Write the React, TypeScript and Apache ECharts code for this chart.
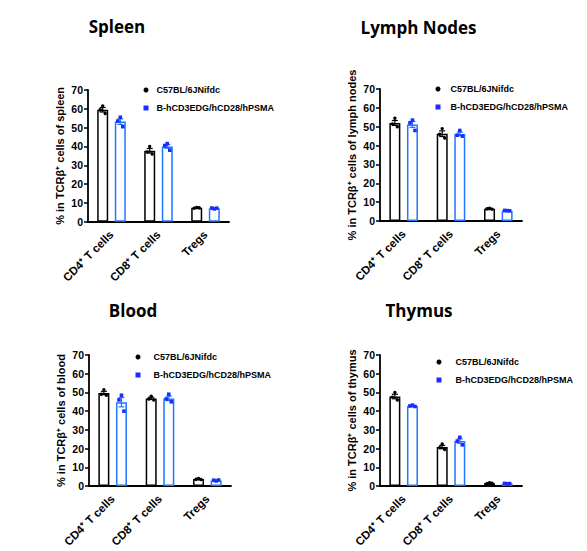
import React, { useEffect, useRef } from "react";
import * as echarts from "echarts";

const categories = ["CD4⁺ T cells", "CD8⁺ T cells", "Tregs"];
const WT = "C57BL/6JNifdc";
const HU = "B-hCD3EDG/hCD28/hPSMA";
const yTicks = [0, 10, 20, 30, 40, 50, 60, 70];

// Spleen
const spleenWTPoints = [[61.5, 59.5, 57.5], [40, 37, 36], [7.6, 7.2, 7.4]];
const spleenWTMean = [59.5, 37.7, 7.4];
const spleenWTSem = [1.2, 1.2, 0.15];
const spleenHUPoints = [[55.5, 53.5, 50.5], [41.5, 40.5, 38], [6.8, 7.3, 7.2]];
const spleenHUMean = [53.2, 40, 7.1];
const spleenHUSem = [1.5, 1.0, 0.15];

// Lymph nodes
const lymphWTPoints = [[54.5, 51.5, 50], [49, 46, 44], [6.8, 6.5, 6.3]];
const lymphWTMean = [52, 46.3, 6.5];
const lymphWTSem = [1.3, 1.5, 0.15];
const lymphHUPoints = [[53.5, 52, 48], [48, 45.5, 45], [5.5, 5.6, 5.4]];
const lymphHUMean = [51.2, 46.2, 5.5];
const lymphHUSem = [1.6, 0.9, 0.1];

// Blood
const bloodWTPoints = [[51.5, 49, 48.5], [48, 46.5, 46], [4, 3.6, 3.5]];
const bloodWTMean = [49.7, 46.8, 3.7];
const bloodWTSem = [0.9, 0.6, 0.15];
const bloodHUPoints = [[48.5, 46, 40], [49, 46.5, 45], [2.7, 3.1, 3.2]];
const bloodHUMean = [44.8, 46.8, 3.0];
const bloodHUSem = [2.5, 1.2, 0.15];

// Thymus
const thymusWTPoints = [[50, 47.5, 46], [22.5, 20.5, 19.5], [1.7, 1.4, 1.5]];
const thymusWTMean = [47.8, 20.8, 1.5];
const thymusWTSem = [1.2, 0.9, 0.1];
const thymusHUPoints = [[43.2, 42.8, 42.5], [26, 24, 22], [1.2, 1.4, 1.3]];
const thymusHUMean = [42.8, 24, 1.3];
const thymusHUSem = [0.2, 1.2, 0.05];

const panels = [
  { title: "Spleen", yName: "% in TCRβ⁺ cells of spleen", wtP: spleenWTPoints, wtM: spleenWTMean, wtS: spleenWTSem, huP: spleenHUPoints, huM: spleenHUMean, huS: spleenHUSem },
  { title: "Lymph Nodes", yName: "% in TCRβ⁺ cells of lymph nodes", wtP: lymphWTPoints, wtM: lymphWTMean, wtS: lymphWTSem, huP: lymphHUPoints, huM: lymphHUMean, huS: lymphHUSem },
  { title: "Blood", yName: "% in TCRβ⁺ cells of blood", wtP: bloodWTPoints, wtM: bloodWTMean, wtS: bloodWTSem, huP: bloodHUPoints, huM: bloodHUMean, huS: bloodHUSem },
  { title: "Thymus", yName: "% in TCRβ⁺ cells of thymus", wtP: thymusWTPoints, wtM: thymusWTMean, wtS: thymusWTSem, huP: thymusHUPoints, huM: thymusHUMean, huS: thymusHUSem },
];

// layout (positions only)
const grids = [
  { left: 88, top: 90, width: 141, height: 131.7 },
  { left: 380, top: 89, width: 142, height: 132 },
  { left: 89, top: 355, width: 142, height: 131 },
  { left: 380, top: 355, width: 142, height: 131 },
];
const titlePos = [
  { x: 117, y: 18 },
  { x: 418.5, y: 19 },
  { x: 133, y: 302 },
  { x: 419, y: 302 },
];
const legendPos = [
  { left: 143.5, top: 84, pad: 3 },
  { left: 435.5, top: 83, pad: 5 },
  { left: 135.5, top: 351, pad: 8 },
  { left: 436.5, top: 356, pad: 9 },
];

const FONT = "'Liberation Sans', Arial, sans-serif";
const BLACK = "#000000";
const BLUE_BAR = "#1f78ff";
const BLUE_PT = "#1a2cff";
const BAR_W = 11;
const HALF = 8.8;
const JIT = [0, -2.5, 2.5];

function errRender(offset: number, color: string) {
  return (params: any, api: any) => {
    const cat = api.value(0);
    const mean = api.value(1);
    const sem = api.value(2);
    const t = api.coord([cat, mean + sem]);
    const b = api.coord([cat, mean - sem]);
    const x = t[0] + offset;
    const cap = 3;
    const st = { stroke: color, lineWidth: 1.2 };
    return {
      type: "group",
      children: [
        { type: "line", shape: { x1: x, y1: t[1], x2: x, y2: b[1] }, style: st },
        { type: "line", shape: { x1: x - cap, y1: t[1], x2: x + cap, y2: t[1] }, style: st },
        { type: "line", shape: { x1: x - cap, y1: b[1], x2: x + cap, y2: b[1] }, style: st },
      ],
    };
  };
}

function ptRender(offset: number, color: string, square: boolean) {
  return (params: any, api: any) => {
    const cat = api.value(0);
    const v = api.value(1);
    const rep = api.value(2);
    const p = api.coord([cat, v]);
    const x = p[0] + offset + JIT[rep];
    if (square) {
      return { type: "rect", shape: { x: x - 1.8, y: p[1] - 1.8, width: 3.6, height: 3.6 }, style: { fill: color } };
    }
    return { type: "circle", shape: { cx: x, cy: p[1], r: 1.7 }, style: { fill: color } };
  };
}

export default function App() {
  const ref = useRef<HTMLDivElement>(null);
  useEffect(() => {
    if (!ref.current) return;
    const chart = echarts.init(ref.current, null, { renderer: "svg" });
    const series: any[] = [];
    panels.forEach((p, i) => {
      const wtPts: number[][] = [];
      const huPts: number[][] = [];
      p.wtP.forEach((arr, c) => arr.forEach((v, r) => wtPts.push([c, v, r])));
      p.huP.forEach((arr, c) => arr.forEach((v, r) => huPts.push([c, v, r])));
      series.push(
        {
          type: "bar", name: WT, xAxisIndex: i, yAxisIndex: i, data: p.wtM,
          barWidth: BAR_W, barGap: "60%",
          itemStyle: { color: "#ffffff", borderColor: BLACK, borderWidth: 1.5 },
          silent: true,
        },
        {
          type: "bar", name: HU, xAxisIndex: i, yAxisIndex: i, data: p.huM,
          barWidth: BAR_W, barGap: "60%",
          itemStyle: { color: "#ffffff", borderColor: BLUE_BAR, borderWidth: 1.5 },
          silent: true,
        },
        {
          type: "custom", xAxisIndex: i, yAxisIndex: i,
          data: p.wtM.map((m, c) => [c, m, p.wtS[c]]),
          renderItem: errRender(-HALF, BLACK), silent: true, z: 3,
        },
        {
          type: "custom", xAxisIndex: i, yAxisIndex: i,
          data: p.huM.map((m, c) => [c, m, p.huS[c]]),
          renderItem: errRender(HALF, BLUE_BAR), silent: true, z: 3,
        },
        {
          type: "custom", xAxisIndex: i, yAxisIndex: i, data: wtPts,
          renderItem: ptRender(-HALF, BLACK, false), silent: true, z: 4,
        },
        {
          type: "custom", xAxisIndex: i, yAxisIndex: i, data: huPts,
          renderItem: ptRender(HALF, BLUE_PT, true), silent: true, z: 4,
        }
      );
    });

    const option: any = {
      animation: false,
      backgroundColor: "#ffffff",
      title: panels.map((p, i) => ({
        text: p.title,
        left: titlePos[i].x,
        top: titlePos[i].y,
        textAlign: "center",
        padding: 0,
        textStyle: { fontFamily: "'Open Sans', 'Noto Sans', sans-serif", fontWeight: "bold", fontSize: 17, color: "#000" },
      })),
      legend: panels.map((p, i) => ({
        left: legendPos[i].left,
        top: legendPos[i].top,
        orient: "vertical",
        padding: 0,
        itemWidth: 5,
        itemHeight: 5,
        itemGap: 6,
        selectedMode: false,
        itemStyle: { borderWidth: 0 },
        textStyle: { fontFamily: FONT, fontWeight: "bold", fontSize: 9, color: "#000", lineHeight: 12, padding: [0, 0, 0, legendPos[i].pad] },
        data: [
          { name: WT, icon: "circle", itemStyle: { color: BLACK, borderWidth: 0 } },
          { name: HU, icon: "rect", itemStyle: { color: BLUE_PT, borderWidth: 0 } },
        ],
      })),
      grid: grids.map((g) => ({ ...g, containLabel: false })),
      xAxis: panels.map((p, i) => ({
        type: "category",
        gridIndex: i,
        data: categories,
        axisLine: { lineStyle: { color: BLACK, width: 1.8 } },
        axisTick: { alignWithLabel: true, length: 5, lineStyle: { color: BLACK, width: 1.5 } },
        axisLabel: { interval: 0, rotate: 45, margin: 11, fontFamily: FONT, fontWeight: "bold", fontSize: 11.5, color: "#000" },
        splitLine: { show: false },
      })),
      yAxis: panels.map((p, i) => ({
        type: "value",
        gridIndex: i,
        min: yTicks[0],
        max: yTicks[yTicks.length - 1],
        interval: 10,
        name: p.yName,
        nameLocation: "middle",
        nameGap: 23,
        nameTextStyle: { fontFamily: FONT, fontWeight: "bold", fontSize: 11, color: "#000" },
        axisLine: { show: true, lineStyle: { color: BLACK, width: 1.8 } },
        axisTick: { show: true, length: 4, lineStyle: { color: BLACK, width: 1.5 } },
        axisLabel: { margin: 5, fontFamily: FONT, fontWeight: "bold", fontSize: 10.5, color: "#000" },
        splitLine: { show: false },
      })),
      series,
    };
    chart.setOption(option);
    return () => chart.dispose();
  }, []);
  return (
    <div
      ref={ref}
      style={{ position: "absolute", left: 0, top: 0, width: 587, height: 551, background: "#fff" }}
    />
  );
}
